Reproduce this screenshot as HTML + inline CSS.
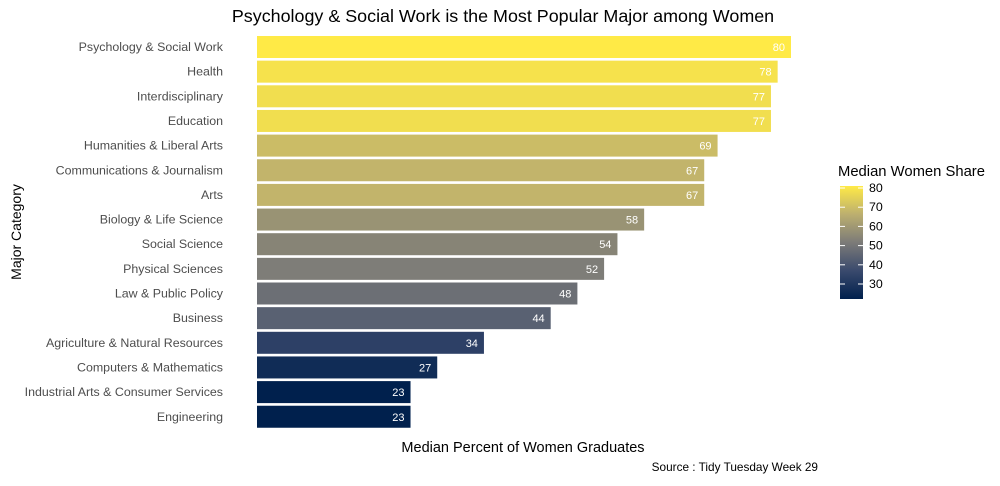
<!DOCTYPE html>
<html><head><meta charset="utf-8"><style>
body{margin:0;background:#fff;font-family:"Liberation Sans",sans-serif}
svg text{font-family:"Liberation Sans",sans-serif}
</style></head><body>
<svg id="c" width="1000" height="481">
<defs><linearGradient id="lg" x1="0" y1="1" x2="0" y2="0">
<stop offset="0" stop-color="#00204d"/><stop offset="0.25" stop-color="#3a4a6d"/><stop offset="0.5" stop-color="#7c7b78"/><stop offset="0.75" stop-color="#bcaf6f"/><stop offset="1" stop-color="#ffea46"/></linearGradient></defs>
<text x="503" y="22" text-anchor="middle" font-size="17.9" fill="#000">Psychology &amp; Social Work is the Most Popular Major among Women</text>
<text x="523" y="452" text-anchor="middle" font-size="14.5" fill="#000">Median Percent of Women Graduates</text>
<text x="818" y="471" text-anchor="end" font-size="11.8" fill="#000">Source : Tidy Tuesday Week 29</text>
<text transform="translate(21,232) rotate(-90)" text-anchor="middle" font-size="14" fill="#000">Major Category</text>
<g id="bars"></g>
<text x="838" y="176" font-size="14.8" fill="#000">Median Women Share</text>
<rect x="840" y="186" width="23" height="113" fill="url(#lg)"/>
<g id="leg"></g>
</svg>
<script>
const categories=["Psychology & Social Work","Health","Interdisciplinary","Education","Humanities & Liberal Arts","Communications & Journalism","Arts","Biology & Life Science","Social Science","Physical Sciences","Law & Public Policy","Business","Agriculture & Natural Resources","Computers & Mathematics","Industrial Arts & Consumer Services","Engineering"];
const values=[80,78,77,77,69,67,67,58,54,52,48,44,34,27,23,23];
const legendTicks=[30,40,50,60,70,80];
const NS="http://www.w3.org/2000/svg";
const x0=257,k=6.675,y0=36,step=24.65,bh=22;
const xs=v=>x0+v*k;
const stops=[[0,[0,32,77]],[0.25,[58,74,109]],[0.5,[124,123,120]],[0.75,[188,175,111]],[1,[255,234,70]]];
function col(v){let t=(v-23)/(80-23);t=Math.max(0,Math.min(1,t));for(let i=1;i<stops.length;i++){if(t<=stops[i][0]){const a=stops[i-1],b=stops[i],f=(t-a[0])/(b[0]-a[0]);return "rgb("+a[1].map((c,j)=>Math.round(c+(b[1][j]-c)*f)).join(",")+")";}}}
const g=document.getElementById("bars");
categories.forEach((c,i)=>{
 const y=y0+i*step;
 const r=document.createElementNS(NS,"rect");
 r.setAttribute("x",x0);r.setAttribute("y",y);r.setAttribute("width",xs(values[i])-x0);r.setAttribute("height",bh);r.setAttribute("fill",col(values[i]));
 
 
 g.appendChild(r);
 const t=document.createElementNS(NS,"text");
 t.setAttribute("x",xs(values[i])-6);t.setAttribute("y",y+15);t.setAttribute("text-anchor","end");t.setAttribute("font-size","11");t.setAttribute("fill","#fff");t.textContent=values[i];
 
 
 g.appendChild(t);
 const l=document.createElementNS(NS,"text");
 l.setAttribute("x",223);l.setAttribute("y",y+15);l.setAttribute("text-anchor","end");l.setAttribute("font-size","12.4");l.setAttribute("fill","#4d4d4d");l.textContent=c;
 
 
 g.appendChild(l);
});
const lg=document.getElementById("leg");
const ly=v=>188+(80-v)*1.92;
legendTicks.forEach(v=>{
 const y=ly(v);
 const a=document.createElementNS(NS,"line");a.setAttribute("x1",840);a.setAttribute("x2",845);a.setAttribute("y1",y);a.setAttribute("y2",y);a.setAttribute("stroke","#fff");
 
 
 lg.appendChild(a);
 const b=document.createElementNS(NS,"line");b.setAttribute("x1",858);b.setAttribute("x2",863);b.setAttribute("y1",y);b.setAttribute("y2",y);b.setAttribute("stroke","#fff");
 
 
 lg.appendChild(b);
 const t=document.createElementNS(NS,"text");t.setAttribute("x",869);t.setAttribute("y",y+4);t.setAttribute("font-size","12.4");t.setAttribute("fill","#000");t.textContent=v;
 
 
 lg.appendChild(t);
});
</script>
</body></html>
